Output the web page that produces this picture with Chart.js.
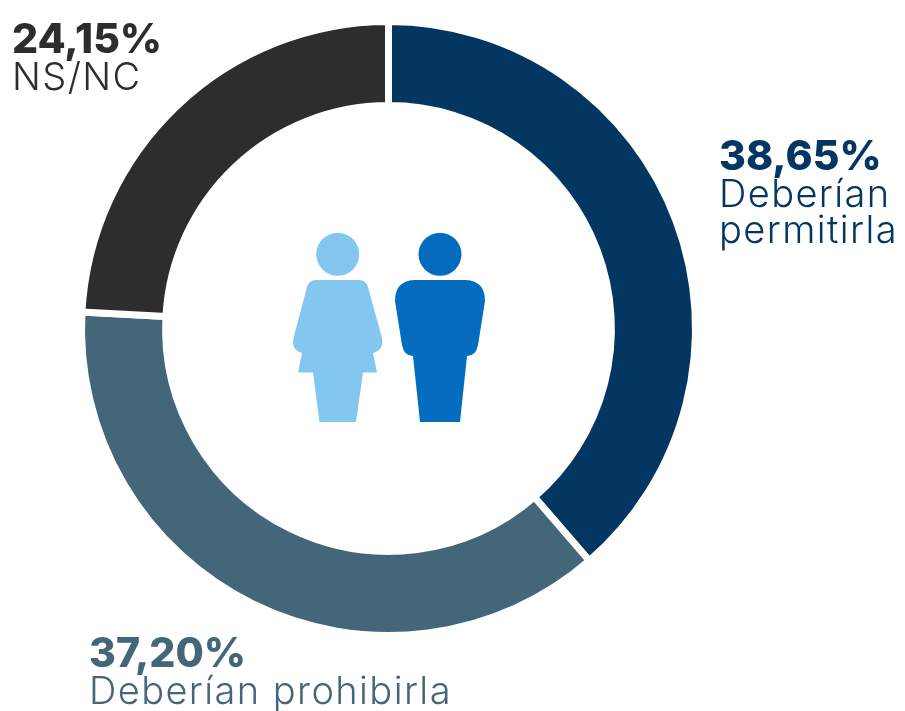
<!DOCTYPE html>
<html><head><meta charset="utf-8">
<script src="https://cdn.jsdelivr.net/npm/chart.js@4"></script>
<style>
html,body{margin:0;padding:0;background:#fff;}
#w{position:relative;width:905px;height:711px;overflow:hidden;}
canvas{position:absolute;left:0;top:0;}
</style></head><body>
<div id="w"><canvas id="c" width="905" height="711"></canvas></div>
<script>
const categories=["Deberían permitirla","Deberían prohibirla","NS/NC"];
const valueTexts=["38,65%","37,20%","24,15%"];
const values=[38.65,37.20,24.15];
const colors=["#033660","#436679","#2d2d2d"];
const labelLines=[["Deberían","permitirla"],["Deberían prohibirla"],["NS/NC"]];
const labelAnchors=[[719,170],[89,667],[12,53]];
const font='Inter';
function drawFigures(ctx){
  ctx.save();
  ctx.fillStyle="#83c7f1";
  ctx.beginPath();ctx.arc(337.7,254.3,21.5,0,Math.PI*2);ctx.fill();
  ctx.beginPath();
  ctx.moveTo(316,280);ctx.lineTo(359,280);
  ctx.quadraticCurveTo(366,280,368,287);
  ctx.lineTo(382,338);ctx.quadraticCurveTo(384,350,373,353);
  ctx.lineTo(377,372.5);ctx.lineTo(363,372.5);ctx.lineTo(356,422);ctx.lineTo(319.5,422);ctx.lineTo(313,372.5);ctx.lineTo(298,372.5);ctx.lineTo(302,353);
  ctx.quadraticCurveTo(291,350,293.5,338);
  ctx.lineTo(307,287);ctx.quadraticCurveTo(309,280,316,280);
  ctx.fill();
  ctx.fillStyle="#036cbf";
  ctx.beginPath();ctx.arc(440,254.3,21.5,0,Math.PI*2);ctx.fill();
  ctx.beginPath();
  ctx.moveTo(414,280);ctx.lineTo(466,280);
  ctx.quadraticCurveTo(485,281,485,301);
  ctx.lineTo(478,345);ctx.quadraticCurveTo(476,356,467,356);
  ctx.lineTo(460,422);ctx.lineTo(420,422);ctx.lineTo(413,356);
  ctx.quadraticCurveTo(404,356,402,345);
  ctx.lineTo(395,301);ctx.quadraticCurveTo(395,281,414,280);
  ctx.fill();
  ctx.restore();
}
const overlay={id:"overlay",afterDraw(chart){
  const ctx=chart.ctx;
  drawFigures(ctx);
  ctx.textBaseline="alphabetic";ctx.textAlign="left";
  categories.forEach((c,i)=>{
    const [x,y]=labelAnchors[i];
    ctx.fillStyle=colors[i];
    ctx.letterSpacing="0px";
    ctx.font='800 41px '+font;
    ctx.fillText(valueTexts[i],x,y);
    ctx.font='300 38px '+font;
    ctx.letterSpacing="1.4px";
    labelLines[i].forEach((t,j)=>ctx.fillText(t,x,y+37+j*36));
  });
  ctx.letterSpacing="0px";
}};
new Chart(document.getElementById("c"),{
 type:"doughnut",
 data:{labels:categories,datasets:[{data:values,backgroundColor:colors,borderColor:"#fff",borderWidth:7}]},
 options:{responsive:false,animation:false,cutout:"72.6%",
  layout:{padding:{left:78,right:206,top:18,bottom:72}},
  plugins:{legend:{display:false},tooltip:{enabled:false}}},
 plugins:[overlay]
});
</script></body></html>
